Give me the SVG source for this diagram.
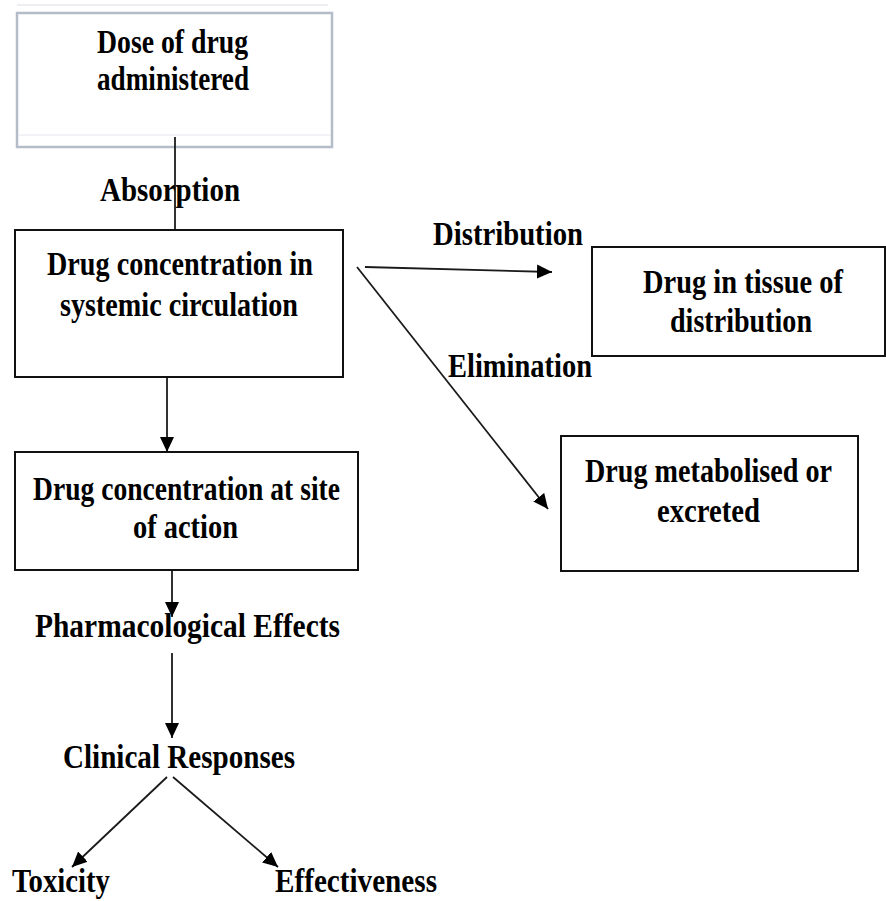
<svg xmlns="http://www.w3.org/2000/svg" width="886" height="901" viewBox="0 0 886 901">
<style>
text{font-family:"Liberation Serif","Times New Roman",serif;font-weight:bold;font-size:33px;fill:#000;text-anchor:middle}
.box{fill:#fff;stroke:#111;stroke-width:2}
.soft{fill:#fff;stroke:#b4bcc8;stroke-width:2.5}
.conn line{stroke:#1a1a1a;stroke-width:1.8}
.arr{marker-end:url(#ah)}
</style>
<defs>
<marker id="ah" markerUnits="userSpaceOnUse" markerWidth="16" markerHeight="16" viewBox="0 0 16 16" refX="15" refY="8" orient="auto">
<path d="M0,1 L15,8 L0,15 z" fill="#000"/>
</marker>
</defs>
<rect width="886" height="901" fill="#fff"/>

<g id="dose">
<line x1="17" y1="5" x2="328" y2="5" stroke="#e6e9ee" stroke-width="1.5"/>
<rect class="soft" x="17" y="13" width="315" height="134"/>
<line x1="18" y1="135" x2="331" y2="135" stroke="#e2e6ec" stroke-width="1"/>
<text x="172.5" y="53" textLength="151" lengthAdjust="spacingAndGlyphs">Dose of drug</text>
<text x="173" y="90" textLength="152" lengthAdjust="spacingAndGlyphs">administered</text>
</g>

<g class="conn" id="connectors">
<line x1="175" y1="137" x2="175" y2="230"/>
<line class="arr" x1="167" y1="350" x2="167" y2="452"/>
<line class="arr" x1="172" y1="538" x2="172" y2="617"/>
<line class="arr" x1="172" y1="653" x2="172" y2="738"/>
<line class="arr" x1="167" y1="777" x2="72" y2="867"/>
<line class="arr" x1="173" y1="777" x2="278" y2="867"/>
<line class="arr" x1="365" y1="267" x2="552" y2="272"/>
<line class="arr" x1="357" y1="267" x2="548" y2="509"/>
</g>

<g id="labels">
<text x="170" y="201" textLength="140" lengthAdjust="spacingAndGlyphs">Absorption</text>
<text x="508" y="245" textLength="150" lengthAdjust="spacingAndGlyphs">Distribution</text>
<text x="520" y="377" textLength="144" lengthAdjust="spacingAndGlyphs">Elimination</text>
</g>

<g id="systemic">
<rect class="box" x="15" y="230" width="328" height="147"/>
<text x="180" y="275" textLength="266" lengthAdjust="spacingAndGlyphs">Drug concentration in</text>
<text x="179" y="316" textLength="238" lengthAdjust="spacingAndGlyphs">systemic circulation</text>
</g>

<g id="tissue">
<rect class="box" x="592" y="247" width="293" height="109"/>
<text x="743" y="293" textLength="200" lengthAdjust="spacingAndGlyphs">Drug in tissue of</text>
<text x="741" y="332" textLength="142" lengthAdjust="spacingAndGlyphs">distribution</text>
</g>

<g id="metabolised">
<rect class="box" x="561" y="436" width="297" height="135"/>
<text x="708.5" y="482" textLength="247" lengthAdjust="spacingAndGlyphs">Drug metabolised or</text>
<text x="708.5" y="522" textLength="103" lengthAdjust="spacingAndGlyphs">excreted</text>
</g>

<g id="site">
<rect class="box" x="15" y="452" width="343" height="118"/>
<text x="186.5" y="500" textLength="307" lengthAdjust="spacingAndGlyphs">Drug concentration at site</text>
<text x="185.5" y="538" textLength="105" lengthAdjust="spacingAndGlyphs">of action</text>
</g>

<g id="pharmacological">
<text x="187.5" y="637" textLength="305" lengthAdjust="spacingAndGlyphs">Pharmacological Effects</text>
</g>

<g id="clinical">
<text x="179" y="768" textLength="232" lengthAdjust="spacingAndGlyphs">Clinical Responses</text>
</g>

<g id="toxicity">
<text x="61" y="892" textLength="98" lengthAdjust="spacingAndGlyphs">Toxicity</text>
</g>

<g id="effectiveness">
<text x="356" y="892" textLength="162" lengthAdjust="spacingAndGlyphs">Effectiveness</text>
</g>
</svg>
